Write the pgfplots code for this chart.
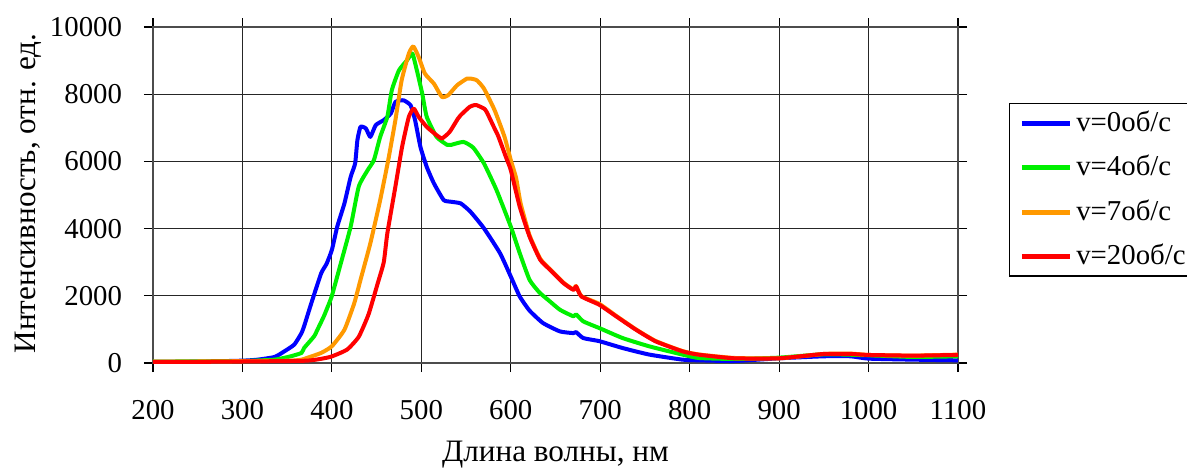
\documentclass[border=0pt]{standalone}
\usepackage{fontspec}
\setmainfont{Liberation Serif}
\usepackage{pgfplots}
\pgfplotsset{compat=1.18}

\definecolor{cBlue}{RGB}{0,0,255}
\definecolor{cGreen}{RGB}{0,240,0}
\definecolor{cOrange}{RGB}{255,153,0}
\definecolor{cRed}{RGB}{255,0,0}

\begin{document}
\fontsize{14.4}{17}\selectfont
\begin{tikzpicture}
\begin{axis}[
    scale only axis,
    width=402.5pt, height=168pt,
    xmin=200, xmax=1100,
    ymin=0, ymax=10000,
    xtick={200,300,...,1100},
    ytick={0,2000,...,10000},
    /pgf/number format/assume math mode=true,
    /pgf/number format/set thousands separator={},
    scaled y ticks=false,
    tick align=outside,
    major tick length=4.5pt,
    tick style={black, line width=0.6pt},
    axis line style={black!70, line width=0.6pt},
    grid=major,
    major grid style={black!85, line width=0.6pt},
    tick label style={font=\fontsize{14.4}{17}\selectfont},
    xticklabel style={yshift=-9pt},
    yticklabel style={xshift=-6pt},
    xlabel={Длина волны, нм},
    ylabel={Интенсивность, отн. ед.},
    label style={font=\fontsize{15.6}{18}\selectfont},
    xlabel style={at={(axis description cs:0.5,-0.274)}, anchor=center},
    ylabel style={at={(axis description cs:-0.155,0.505)}, anchor=center},
    legend style={at={(rel axis cs:1.063,0.774)}, anchor=north west,
        draw=black, line width=0.6pt, font=\fontsize{14.4}{17}\selectfont,
        row sep=5.8pt, inner xsep=5pt, inner ysep=1.5pt},
    legend cell align=left,
    legend image code/.code={\draw[#1, line width=2.5pt] (0pt,0pt) -- (24pt,0pt);},
    every axis plot/.append style={line width=2pt, line join=round, smooth, tension=0.3},
]
\addplot[cBlue] coordinates {
(200,30) (250,40) (300,70) (317,100) (336,180) (347,350) (358,550) (366,890)
(369,1100) (377,1780) (388,2670) (394,2950) (400,3366) (406,4060) (414,4750)
(421,5540) (426,5940) (428.5,6630) (432,7030) (438,6980) (443,6730) (449,7080)
(458,7230) (466,7430) (471,7770) (480,7820) (488,7670) (493,7230) (499,6430)
(506,5840) (514,5350) (525,4850) (533,4800) (544,4750) (555,4500) (570,4010)
(588,3267) (600,2574) (610,1980) (621,1560) (636,1190) (655,940) (670,890)
(673,920) (681,743) (699,650) (725,446) (755,250) (792,100) (810,80) (850,60)
(900,140) (950,200) (980,200) (1000,130) (1050,100) (1100,80)
};
\addplot[cGreen] coordinates {
(200,40) (250,50) (300,60) (336,100) (354,200) (366,300) (369,450) (380,790)
(384,1000) (391,1390) (395,1650) (400,2000) (410,2970) (421,4060) (430,5250)
(440,5740) (447,6040) (454,6730) (462,7330) (467,8120) (475,8710) (484,9010)
(490,9210) (495,8710) (501,8020) (506,7330) (517,6730) (529,6490) (533,6490)
(547,6580) (558,6410) (570,5940) (584,5150) (600,4060) (610,3270) (621,2475)
(632,2100) (643,1850) (655,1584) (670,1390) (673,1450) (681,1240) (699,1040)
(725,743) (755,495) (792,250) (810,150) (850,120) (900,160) (950,260)
(1000,230) (1050,180) (1100,200)
};
\addplot[cOrange] coordinates {
(200,40) (250,45) (300,55) (354,70) (366,100) (372,150) (388,300) (400,500)
(414,990) (425,1780) (432,2475) (443,3564) (454,4850) (463,6040) (471,7230)
(478,8415) (486,9207) (491,9425) (497,9108) (504,8613) (514,8316) (523,7920)
(530,7970) (540,8267) (551,8465) (555,8465) (562,8415) (570,8168) (582,7520)
(593,6732) (600,6040) (606,5500) (611,4750) (621,3800) (633,3100) (644,2790)
(659,2390) (670,2190) (673,2290) (679,1990) (699,1760) (718,1400) (740,1000)
(762,655) (792,355) (810,255) (850,150) (900,140) (950,270) (980,280)
(1000,240) (1050,220) (1100,250)
};
\addplot[cRed] coordinates {
(200,30) (250,35) (300,45) (372,70) (398,180) (417,400) (430,780) (441,1450)
(451,2350) (458,3000) (462,3860) (471,5250) (478.5,6435) (486,7326) (491.5,7574)
(497,7326) (506,7029) (517,6782) (523,6683) (530,6831) (533,6930) (541,7277)
(544,7376) (554,7623) (559,7673) (562,7673) (570,7574) (573,7475) (581,7029)
(586,6750) (595,6100) (600,5742) (610,4653) (621,3762) (633,3069) (644,2772)
(659,2376) (670,2178) (673,2280) (679,1980) (699,1733) (718,1386) (740,990)
(762,644) (792,347) (810,248) (850,140) (900,140) (950,270) (980,270)
(1000,240) (1050,220) (1100,240)
};
\legend{v=0об/с, v=4об/с, v=7об/с, v=20об/с}
\end{axis}
\pgfresetboundingbox
\path[use as bounding box] (-76.5pt,-52.5pt) rectangle (517pt,181.5pt);
\end{tikzpicture}
\end{document}
